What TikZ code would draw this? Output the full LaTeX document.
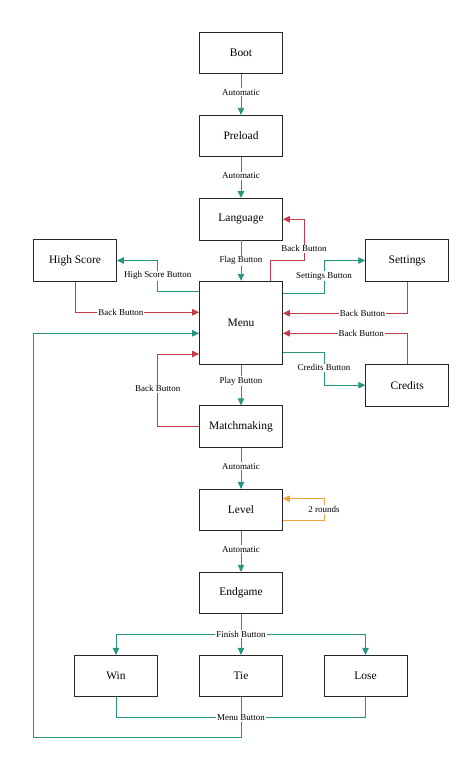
\documentclass[tikz,border=0pt]{standalone}
\usepackage{fontspec}
\setmainfont{Liberation Serif}
\usetikzlibrary{shapes,arrows.meta}
\definecolor{goteal}{HTML}{26957D}
\definecolor{backred}{HTML}{C43C4A}
\definecolor{loopor}{HTML}{F2A33A}
\tikzstyle{state} = [draw=black!85, rectangle, line width=0.8pt,
    minimum height=41.5bp, minimum width=83bp, font=\fontsize{11.5}{13}\selectfont]
\tikzstyle{go} = [draw=goteal, line width=0.9pt, -{Triangle[length=7bp,width=6.5bp]}]
\tikzstyle{back} = [go, draw=backred]
\tikzstyle{lbl} = [fill=white, text=black, inner sep=1pt, font=\fontsize{9}{10}\selectfont]

\begin{document}
\begin{tikzpicture}[x=1bp, y=-1bp]
\useasboundingbox (0,0) rectangle (476,775);

\node[state] (boot) at (241,52.7) {Boot};
\node[state] (preload) at (241,136) {Preload};
\node[state] (language) at (241,219.2) {Language};
\node[state] (highscore) at (75,260.5) {High Score};
\node[state] (settings) at (407.2,260.5) {Settings};
\node[state, minimum height=83bp] (menu) at (241,322.7) {Menu};
\node[state] (credits) at (407.2,385.2) {Credits};
\node[state] (matchmaking) at (241,426.5) {Matchmaking};
\node[state] (level) at (241,510) {Level};
\node[state] (endgame) at (241,593) {Endgame};
\node[state] (win) at (116,676) {Win};
\node[state] (tie) at (241,676) {Tie};
\node[state] (lose) at (365.5,676) {Lose};

\coordinate (HS1) at (157.7,291);
\coordinate (HS2) at (157.7,260.5);
\coordinate (HB1) at (75,312.3);
\coordinate (LB1) at (270,260.3);
\coordinate (LB2) at (304,260.3);
\coordinate (LB3) at (304,219.2);
\coordinate (ST1) at (324,293.3);
\coordinate (ST2) at (324,260.5);
\coordinate (SB1) at (407.2,313.3);
\coordinate (CB1) at (407.2,333.3);
\coordinate (CR1) at (324,352.7);
\coordinate (CR2) at (324,385.2);
\coordinate (MB1) at (157.7,426.5);
\coordinate (MB2) at (157.7,354);
\coordinate (LV1) at (324,520.3);
\coordinate (LV2) at (324,498.7);
\coordinate (FB) at (241,634.3);
\coordinate (MN) at (241,717.7);
\coordinate (MN1) at (241,737.7);
\coordinate (MN2) at (33.3,737.7);
\coordinate (MN3) at (33.3,333.3);

\draw[go] (boot) -- node[lbl, pos=0.45] {Automatic} (preload);
\draw[go] (preload) -- node[lbl, pos=0.45] {Automatic} (language);
\draw[go] (language) -- node[lbl, pos=0.5] {Flag Button} (menu);

\draw[go] (menu.west |- HS1) -- (HS1) -- node[lbl] {High Score Button} (HS2) -- (highscore.east);
\draw[back] (highscore.south) -- (HB1) -- node[lbl, pos=0.37] {Back Button} (menu.west |- HB1);
\draw[back] (menu.north -| LB1) -- (LB1) -- (LB2) -- node[lbl, pos=0.28] {Back Button} (LB3) -- (language.east);
\draw[go] (menu.east |- ST1) -- (ST1) -- node[lbl, pos=0.52] {Settings Button} (ST2) -- (settings.west);
\draw[back] (settings.south) -- (SB1) -- node[lbl, pos=0.36] {Back Button} (menu.east |- SB1);
\draw[back] (credits.north) -- (CB1) -- node[lbl, pos=0.37] {Back Button} (menu.east |- CB1);
\draw[go] (menu.east |- CR1) -- (CR1) -- node[lbl, pos=0.46] {Credits Button} (CR2) -- (credits.west);

\draw[go] (menu) -- node[lbl, pos=0.4] {Play Button} (matchmaking);
\draw[back] (matchmaking.west) -- (MB1) -- node[lbl, pos=0.52] {Back Button} (MB2) -- (menu.west |- MB2);

\draw[go] (matchmaking) -- node[lbl, pos=0.45] {Automatic} (level);
\draw[loopor, line width=0.9pt, -{Triangle[length=7bp,width=6.5bp]}]
    (level.east |- LV1) -- (LV1) -- node[lbl] {2 rounds} (LV2) -- (level.east |- LV2);
\draw[go] (level) -- node[lbl, pos=0.45] {Automatic} (endgame);

\draw[goteal, line width=0.9pt] (endgame) -- (FB);
\draw[go] (FB) -| (win.north);
\draw[go] (FB) -- (tie.north);
\draw[go] (FB) -| (lose.north);
\node[lbl] at (FB) {Finish Button};

\draw[goteal, line width=0.9pt] (win.south) |- (MN);
\draw[goteal, line width=0.9pt] (lose.south) |- (MN);
\draw[go] (tie.south) -- (MN1) -- (MN2) -- (MN3) -- (menu.west |- MN3);
\node[lbl] at (MN) {Menu Button};
\end{tikzpicture}
\end{document}
